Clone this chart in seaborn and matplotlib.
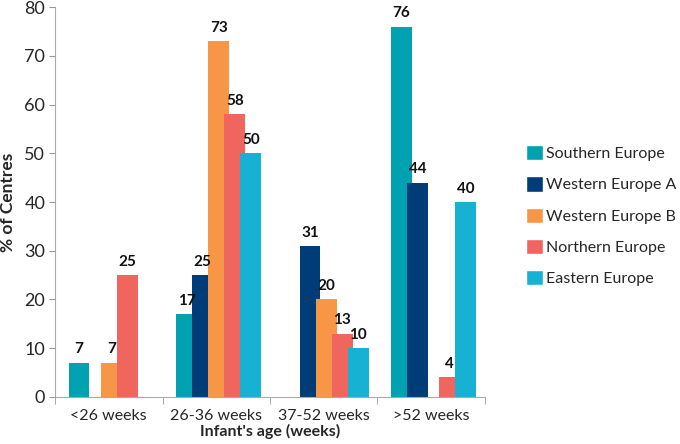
import numpy as np
import pandas as pd
import matplotlib
matplotlib.use('Agg')
import matplotlib.pyplot as plt
import seaborn as sns

# Dane
categories = ['<26 weeks', '26-36 weeks', '37-52 weeks', '>52 weeks']
regions = ['Southern Europe', 'Western Europe A', 'Western Europe B',
           'Northern Europe', 'Eastern Europe']
southern = [7, 17, 0, 76]
western_a = [0, 25, 31, 44]
western_b = [7, 73, 20, 0]
northern = [25, 58, 13, 4]
eastern = [0, 50, 10, 40]
colors = ['#00A2B2', '#003C78', '#F79646', '#F0665F', '#17B2D3']
yticks = [0, 10, 20, 30, 40, 50, 60, 70, 80]

values = [southern, western_a, western_b, northern, eastern]
df = pd.DataFrame({
    'Age': categories * len(regions),
    'Region': np.repeat(regions, len(categories)),
    'Value': np.concatenate(values),
})

sns.set_style('white')
plt.rcParams['font.family'] = ['Lato', 'DejaVu Sans']

fig = plt.figure(figsize=(6.8, 4.44), dpi=100)
ax = fig.add_axes([0.081, 0.106, 0.632, 0.878])

sns.barplot(data=df, x='Age', y='Value', hue='Region', order=categories,
            hue_order=regions, palette=colors, width=0.75, gap=0,
            saturation=1, ax=ax, legend=True, err_kws={'linewidth': 0})

# lekkie nakładanie się słupków jak w oryginale
for cont in ax.containers:
    for p in cont.patches:
        p.set_width(0.195)
        p.set_linewidth(0)

# etykiety wartości
for cont, vals in zip(ax.containers, values):
    for p, v in zip(cont.patches, vals):
        if v == 0:
            continue
        ax.text(p.get_x() + p.get_width() / 2, v + 1.3, str(v), ha='center',
                va='bottom', fontsize=11, fontweight='bold', color='#111111')

ax.set_xlim(-0.5, 3.5)
ax.set_ylim(0, 80)
ax.set_yticks(yticks)
ax.tick_params(axis='y', labelsize=13, length=4, color='#999999', left=True, pad=3)
ax.set_xticks(range(len(categories)))
ax.set_xticklabels(categories, fontsize=11.5)
ax.set_xticks(np.arange(-0.5, 4, 1), minor=True)
ax.tick_params(axis='x', which='major', length=0, pad=9)
ax.tick_params(axis='x', which='minor', length=5, color='#999999', bottom=True)

for s in ['top', 'right']:
    ax.spines[s].set_visible(False)
for s in ['left', 'bottom']:
    ax.spines[s].set_color('#aaaaaa')

ax.set_ylabel('% of Centres', fontsize=12.5, fontweight='bold', labelpad=6)
ax.set_xlabel("Infant's age (weeks)", fontsize=11.5, fontweight='bold', labelpad=0.5)

leg = ax.legend(loc='center left', bbox_to_anchor=(1.08, 0.465), frameon=False,
                fontsize=11.5, handlelength=1.1, handleheight=1.1,
                handletextpad=0.2, labelspacing=0.95, borderaxespad=0)

plt.savefig('out.png', dpi=100)
